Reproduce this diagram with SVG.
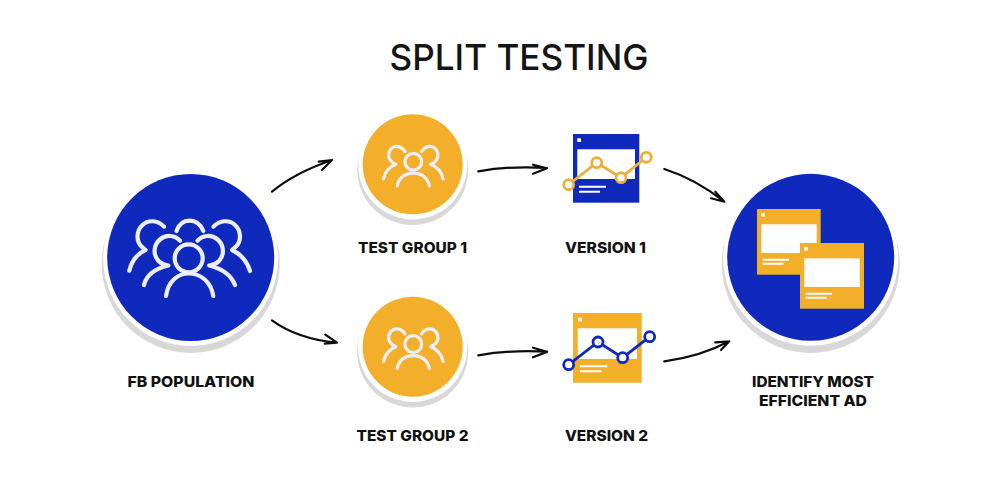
<svg xmlns="http://www.w3.org/2000/svg" xmlns:xlink="http://www.w3.org/1999/xlink" width="1000" height="500" viewBox="0 0 1000 500">
<style>
.bg{fill:#fff}
.t{font-family:Inter,"Liberation Sans",sans-serif;font-weight:800;font-size:15px;fill:#111;text-anchor:middle}
.title{font-family:Inter,"Liberation Sans",sans-serif;font-weight:500;font-size:36px;fill:#151515;text-anchor:middle}
.shadow{fill:#d8d8d8}
.ring{fill:#fff}
.blue{fill:#1029bd}
.gold{fill:#f3ae2a}
.white{fill:#fff}
.icon{fill:none;stroke:#eceff8;stroke-linecap:round;stroke-linejoin:round}
.arrow{fill:none;stroke:#0c0c0c;stroke-width:2.2;stroke-linecap:round;stroke-linejoin:round}
.txtline{stroke:#fff;stroke-width:2;fill:none}
</style>
<defs>
<filter id="soft" x="-10%" y="-10%" width="120%" height="120%"><feGaussianBlur stdDeviation="0.7"/></filter>
<g id="person3" class="icon" stroke-width="3.2">
<circle cx="413.3" cy="161.7" r="8.4"/>
<path d="M397.3 186C398.5 178 405 173.2 413.3 173.2C421.5 173.2 428 178 429.3 186"/>
<path d="M405 151.5C402.5 147 396.8 145 392.8 147.5C388 150.5 387.3 157 391 161C392.3 162.5 393.8 163.5 395.8 164.3C389 167 384.8 172.5 383.5 179"/>
<path d="M421.5 151.5C424 147 429.8 145 433.8 147.5C438.6 150.5 439.3 157 435.6 161C434.3 162.5 432.8 163.5 430.8 164.3C437.6 167 441.8 172.5 443.1 179"/>
</g>
<g id="window">
<rect class="white" x="4.3" y="15.3" width="55.4" height="28.7"/>
<rect class="white" x="4.3" y="4" width="3.7" height="3.7"/>
<path class="txtline" d="M5.7 50.7H32M5.7 54.7H26.7"/>
</g>
</defs>
<rect class="bg" width="1000" height="500"/>
<text class="title" x="519" y="69.5" textLength="259" lengthAdjust="spacingAndGlyphs">SPLIT TESTING</text>

<g id="connectors">
<g class="arrow">
<path d="M272 191.7C286 180 306 169 332 160M318.7 161.7L332 160L322 170"/>
<path d="M272 320.3C288 332 310 340 337 342.7M325.3 334.7L337 342.7L324.7 343.7"/>
<path d="M478.3 171.3C500 167.5 524 166.5 547 168M533 164.7L547 168.2L533 173.7"/>
<path d="M478.3 355.3C500 351.5 524 350.5 547 351.7M533 347.7L547 351.9L533 357.3"/>
<path d="M664.3 169C686 176 706 187 724.3 201.7M715.3 191.7L724.3 201.7L711 198.3"/>
<path d="M664.3 361.3C687 358.5 709 352 729.3 341.3M715.3 342.3L729.3 341.3L721 350"/>
</g>
</g>

<g id="fb-population">
<circle class="shadow" cx="190.7" cy="264" r="89" filter="url(#soft)"/>
<circle class="ring" cx="190.7" cy="258.5" r="87.5"/>
<circle class="blue" cx="190.7" cy="257.5" r="83.5"/>
<g class="icon" stroke-width="4.2">
<circle cx="188.7" cy="258.3" r="14"/>
<path d="M166 296C168 282 177 273.5 188.7 273.5C201 273.5 211 282 213.3 296"/>
<path d="M180 240.7C175 235 166 234.5 160.5 239C153 245 153 255 158.5 261C161 263.5 164.5 265 168.3 265.5C154 269 146 276 144 285"/>
<path d="M197.5 240.7C202.5 235 211.5 234.5 217 239C224.5 245 224.5 255 219 261C216.5 263.5 213 265 209.2 265.5C223.5 269 231.5 276 235 285"/>
<path d="M164 226.7C158 220 148 219.5 142.5 225C136 231 136 241 141.5 246.5C143 248 144.5 249 145.5 250C137 254 131.5 261 129.3 270.7"/>
<path d="M213.5 226.7C219.5 220 229.5 219.5 235 225C241.5 231 241.5 241 236 246.5C234.5 248 233 249 232 250C240.5 254 247 261 250 271"/>
<path d="M176.5 231C179 224 184 220.7 189.5 220.7C195 220.7 200.5 224 203.3 231"/>
</g>
<text class="t" x="191" y="386.5" textLength="127" lengthAdjust="spacingAndGlyphs">FB POPULATION</text>
</g>

<g id="test-group-1">
<circle class="shadow" cx="412.7" cy="169.5" r="55.5" filter="url(#soft)"/>
<circle class="ring" cx="412.7" cy="165" r="54.5"/>
<circle class="gold" cx="412.7" cy="164.3" r="50"/>
<use xlink:href="#person3" href="#person3"/>
<text class="t" x="412.5" y="252.5" textLength="109" lengthAdjust="spacingAndGlyphs">TEST GROUP 1</text>
</g>

<g id="test-group-2">
<circle class="shadow" cx="412.7" cy="352" r="55.5" filter="url(#soft)"/>
<circle class="ring" cx="412.7" cy="347.4" r="54.5"/>
<circle class="gold" cx="412.7" cy="346.7" r="50"/>
<use xlink:href="#person3" href="#person3" y="182.4"/>
<text class="t" x="412.5" y="440.5" textLength="112" lengthAdjust="spacingAndGlyphs">TEST GROUP 2</text>
</g>

<g id="version-1">
<rect class="blue" x="573" y="134" width="66.3" height="68.7"/>
<rect class="white" x="577.3" y="149.3" width="57.7" height="29.7"/>
<rect class="white" x="577.3" y="138.3" width="3.7" height="3.7"/>
<path class="txtline" d="M579 186.7H606M579 191.7H600"/>
<polyline points="568.7,184.7 596.7,162.7 621,177.7 646.3,157.3" fill="none" stroke="#eeae3a" stroke-width="2.8"/>
<g fill="#fff" stroke="#eeae3a" stroke-width="2.8">
<circle cx="568.7" cy="184.7" r="5"/>
<circle cx="596.7" cy="162.7" r="5"/>
<circle cx="621" cy="177.7" r="5"/>
<circle cx="646.3" cy="157.3" r="5"/>
</g>
<text class="t" x="605.5" y="252.5" textLength="81" lengthAdjust="spacingAndGlyphs">VERSION 1</text>
</g>

<g id="version-2">
<rect class="gold" x="573" y="313" width="68.7" height="69.7"/>
<rect class="white" x="577.7" y="328.3" width="59.3" height="30.7"/>
<rect class="white" x="578.3" y="317.7" width="3.7" height="3.7"/>
<path class="txtline" d="M580 366.3H607.3M580 371.3H601.7"/>
<polyline points="568.7,364.7 598,342 622.7,357.7 649.7,336.7" fill="none" stroke="#1029bd" stroke-width="2.8"/>
<g fill="#fff" stroke="#1029bd" stroke-width="2.8">
<circle cx="568.7" cy="364.7" r="5"/>
<circle cx="598" cy="342" r="5"/>
<circle cx="622.7" cy="357.7" r="5"/>
<circle cx="649.7" cy="336.7" r="5"/>
</g>
<text class="t" x="606.5" y="440.5" textLength="83" lengthAdjust="spacingAndGlyphs">VERSION 2</text>
</g>

<g id="identify-most-efficient-ad">
<circle class="shadow" cx="810.7" cy="264" r="89" filter="url(#soft)"/>
<circle class="ring" cx="810.7" cy="258.3" r="87.5"/>
<circle class="blue" cx="810.7" cy="257.3" r="83.5"/>
<rect class="gold" x="757" y="209" width="63.7" height="65.7"/>
<use xlink:href="#window" href="#window" x="757" y="209"/>
<rect class="gold" x="800" y="243" width="64" height="65.7"/>
<use xlink:href="#window" href="#window" x="800" y="243"/>
<text class="t" x="813" y="386.5" textLength="122" lengthAdjust="spacingAndGlyphs">IDENTIFY MOST</text>
<text class="t" x="813" y="406" textLength="108" lengthAdjust="spacingAndGlyphs">EFFICIENT AD</text>
</g>
</svg>
